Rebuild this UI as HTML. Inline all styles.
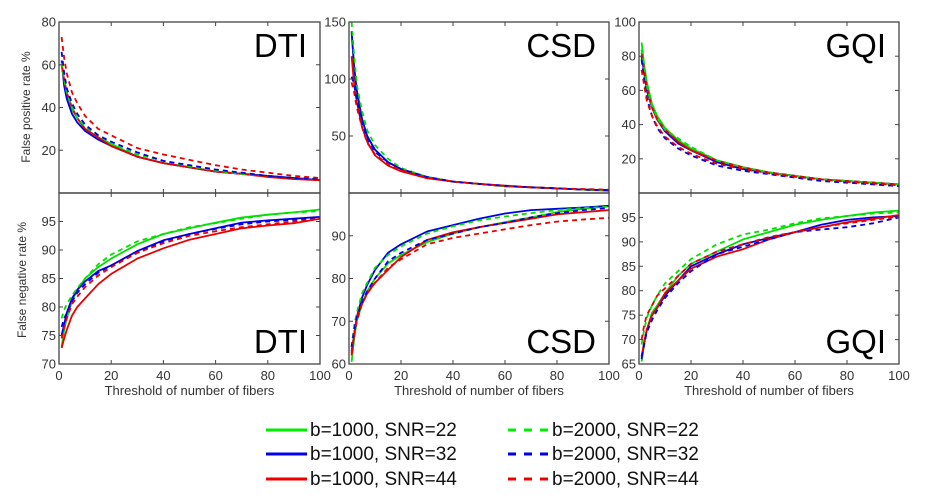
<!DOCTYPE html>
<html><head><meta charset="utf-8"><style>
body{margin:0;background:#fff;}
svg{display:block;font-family:"Liberation Sans",Arial,sans-serif;}
</style></head><body>
<svg id="fig" width="929" height="503" viewBox="0 0 929 503">
<text x="30" y="107" font-size="12" fill="#333" text-anchor="middle" transform="rotate(-90 30 107)">False positive rate %</text>
<text x="26" y="280" font-size="12" fill="#333" text-anchor="middle" transform="rotate(-90 26 280)">False negative rate %</text>
<g font-size="19" fill="#111">
<line x1="266" y1="430" x2="307" y2="430" stroke="#00ee00" stroke-width="3"/>
<text x="310" y="436">b=1000, SNR=22</text>
<line x1="266" y1="454" x2="307" y2="454" stroke="#0000ee" stroke-width="3"/>
<text x="310" y="460">b=1000, SNR=32</text>
<line x1="266" y1="479" x2="307" y2="479" stroke="#ee0000" stroke-width="3"/>
<text x="310" y="485">b=1000, SNR=44</text>
<line x1="508" y1="430" x2="549" y2="430" stroke="#00ee00" stroke-width="3" stroke-dasharray="8,8"/>
<text x="552" y="436">b=2000, SNR=22</text>
<line x1="508" y1="454" x2="549" y2="454" stroke="#0000ee" stroke-width="3" stroke-dasharray="8,8"/>
<text x="552" y="460">b=2000, SNR=32</text>
<line x1="508" y1="479" x2="549" y2="479" stroke="#ee0000" stroke-width="3" stroke-dasharray="8,8"/>
<text x="552" y="485">b=2000, SNR=44</text>
</g>
</svg>
<script>
const xs = [1,2,3,5,7,10,15,20,30,40,50,60,70,80,90,100];
const xTicks = [0,20,40,60,80,100];
const seriesNames = ['b1000-snr22','b1000-snr32','b1000-snr44','b2000-snr22','b2000-snr32','b2000-snr44'];
const seriesColors = ['#00e000','#0000e8','#e80000','#00e000','#0000e8','#e80000'];
const seriesDashed = [false,false,false,true,true,true];

const dtiFP = [
[60,52,46,39,35,30,26,23,17,14,12,10,9,8,7,6],
[62,50,44,37,33,29,25,22,17,14,12,10,9,8,7,6],
[60,53,47,40,35,30,26,22,17,14,12,10,9,7.5,6.5,6],
[61,53,47,40,35,31,27,23,18,15,12.5,10.5,9,8,7,6.5],
[66,56,49,42,37,32,27,24,19,15,13,11,9.5,8,7,6.5],
[73,63,56,47,42,36,30,27,21,18,15.5,13,11,9.5,8,7]];
const dtiFN = [
[73,76,78,81,83,85,87,88.5,91,92.8,93.8,94.8,95.7,96.2,96.6,97.1],
[75,77,79,81.5,83,84.5,86.3,87.3,89.8,91.7,92.8,93.8,94.8,95.2,95.5,95.8],
[72.8,74.5,76,78.5,80,81.5,84,85.8,88.5,90.3,91.8,92.8,93.8,94.3,94.7,95.5],
[78,79.5,80.5,82,83.3,85,87.5,89.2,91.5,92.8,94,94.7,95.5,96.2,96.6,96.8],
[76.5,78,79,81,82.5,84,86,87.3,89.5,91.5,92.8,93.7,94.5,95,95.3,95.6],
[74.5,76.5,78,80.5,81.8,83.5,85.5,87,89.5,91.2,92.5,93.3,94,94.5,95,95.5]];
const csdFP = [
[140,110,90,65,50,38,27,21,14,10,8,6,5,4,3,2.5],
[142,110,90,65,50,38,27,21,14,10,8,6,5,4,3,2.5],
[120,95,80,58,45,33,24,19,13,10,8,6,5,4,3,2],
[150,120,95,72,55,42,30,22,14,10,8,6,5,4,3,2.5],
[102,95,82,62,48,36,27,21,14,10,8,6.5,5,4,3,2.5],
[97,88,75,58,44,34,25,20,13.5,10,8,6.5,5,4,3.5,3]];
const csdFN = [
[60.5,66,70,74,77,80,83.5,85.5,88.5,90.5,92,93.2,94.3,95.5,96.3,97],
[63,67,71,75.5,78.5,82,86,88,91,92.5,94,95.2,96,96.3,96.6,97],
[62,67,71,74,76.5,79,82,85,89,90.8,92,93,94,95,95.5,96],
[64,69,72,76.5,79,82.5,85.5,87.5,90.5,92.2,93.6,94.5,95.3,96,96.5,96.8],
[64,68,71,74.5,77,80,84,86,89,90.5,92,93,94.3,95.3,96,96.5],
[62.5,67,70,74,76.5,79,82.5,84.5,88,89.5,90.5,91.5,92.5,93.3,93.8,94.2]];
const gqiFP = [
[88,75,65,52,45,38,31,26,19,15,12,10,8,7,6,5],
[80,70,60,50,43,36,29,25,18,14,12,10,8,7,6,5],
[82,72,62,50,43,37,30,25,19,15,12,10,8,7,6,5],
[84,72,62,51,44,37,32,27,19,15,12,10,8,7,6,5],
[78,66,56,45,38,32,26,22,16,13,11,9,7,6,5,4],
[72,63,54,45,39,33,27,23,17,14,11.5,9.5,8,6.5,5.5,4.5]];
const gqiFN = [
[65.5,69,72,75.5,77,79.5,83,85.5,88,90.5,92,93.5,94.5,95.3,96,96.4],
[66,69.5,72,75,76.5,79,82,85,87.5,89.5,90.8,92,93.5,94.5,95,95.3],
[66.5,69.5,72,75,76.5,79.5,82,84.5,87,88.5,90.5,92,93,94,94.7,95.5],
[69,72,74.5,77,79,81.5,84,86.5,89.5,91.5,92.5,93.8,94.8,95.3,95.8,96],
[66.5,69,71.5,74,76,78.5,81.5,84,87.5,89,90.5,92,92.5,93,93.8,95],
[70,73,75,77,79,80.5,83,85.5,88,89.5,91,92,93,93.8,94.5,95.2]];

const dtiFPTicks=[20,40,60,80], dtiFNTicks=[70,75,80,85,90,95];
const csdFPTicks=[50,100,150], csdFNTicks=[60,70,80,90];
const gqiFPTicks=[20,40,60,80,100], gqiFNTicks=[65,70,75,80,85,90,95];

const NS='http://www.w3.org/2000/svg';
const svg=document.getElementById('fig');
function mk(tag,attrs,parent){const e=document.createElementNS(NS,tag);for(const k in attrs)e.setAttribute(k,attrs[k]);(parent||svg).appendChild(e);return e;}

function panel(name,label,x0,x1,y0,y1,ymin,ymax,yTicks,data,bottom){
  const g=mk('g',{});
  
  
  const sx=v=>x0+(v-0)/100*(x1-x0);
  const sy=v=>y1-(v-ymin)/(ymax-ymin)*(y1-y0);
  const clipId='clip-'+name;
  const cp=mk('clipPath',{id:clipId},g);
  mk('rect',{x:x0,y:y0,width:x1-x0,height:y1-y0},cp);
  const lg=mk('g',{'clip-path':'url(#'+clipId+')'},g);
  data.forEach((ser,i)=>{
    const d=ser.map((v,j)=>(j?'L':'M')+sx(xs[j]).toFixed(1)+' '+sy(v).toFixed(1)).join(' ');
    const p=mk('path',{d:d,fill:'none',stroke:seriesColors[i],'stroke-width':1.8,'stroke-linejoin':'round'},lg);
    if(seriesDashed[i])p.setAttribute('stroke-dasharray','5,4');
    
    
  });
  const fr=mk('rect',{x:x0,y:y0,width:x1-x0,height:y1-y0,fill:'none',stroke:'#444','stroke-width':1.3},g);
  
  
  yTicks.forEach(t=>{
    const y=sy(t);
    mk('line',{x1:x0,y1:y,x2:x0+4,y2:y,stroke:'#444'},g);
    mk('line',{x1:x1,y1:y,x2:x1-4,y2:y,stroke:'#444'},g);
    const tx=mk('text',{x:x0-3,y:y+4.5,'font-size':13,fill:'#333','text-anchor':'end'},g);
    tx.textContent=t;
    
    
  });
  xTicks.forEach(t=>{
    const x=sx(t);
    mk('line',{x1:x,y1:y1,x2:x,y2:y1-4,stroke:'#444'},g);
    mk('line',{x1:x,y1:y0,x2:x,y2:y0+4,stroke:'#444'},g);
    if(bottom){
      const tx=mk('text',{x:x,y:y1+16,'font-size':13,fill:'#333','text-anchor':'middle'},g);
      tx.textContent=t;
      
      
    }
  });
  const lbl=mk('text',{x:x1-13,y:bottom?y1-11:y0+35,'font-size':33,fill:'#000','text-anchor':'end'},g);
  lbl.textContent=label;
  
  
  if(bottom){
    const xt=mk('text',{x:(x0+x1)/2,y:y1+31,'font-size':13,fill:'#333','text-anchor':'middle'},g);
    xt.textContent='Threshold of number of fibers';
    
    
  }
}
panel('dti-fp','DTI',59,320,22,193,0,80,dtiFPTicks,dtiFP,false);
panel('dti-fn','DTI',59,320,193,364,70,100,dtiFNTicks,dtiFN,true);
panel('csd-fp','CSD',349,609,22,193,0,150,csdFPTicks,csdFP,false);
panel('csd-fn','CSD',349,609,193,364,60,100,csdFNTicks,csdFN,true);
panel('gqi-fp','GQI',639,899,22,193,0,100,gqiFPTicks,gqiFP,false);
panel('gqi-fn','GQI',639,899,193,364,65,100,gqiFNTicks,gqiFN,true);
</script>
</body></html>
